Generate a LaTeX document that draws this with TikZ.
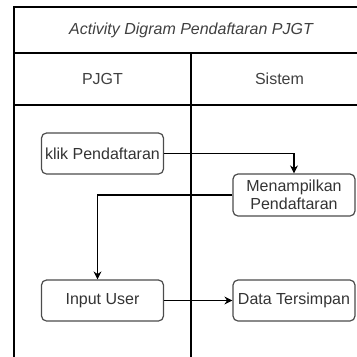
\documentclass[tikz,border=0pt]{standalone}
\usepackage{fontspec}
\setmainfont{Liberation Sans}
\usetikzlibrary{arrows.meta}
\tikzset{
  lane/.style={draw=black, line width=1.3pt},
  heading/.style={text=black!75, font=\fontsize{16}{19}\selectfont},
  activity/.style={rectangle, rounded corners=5pt, minimum width=122pt, minimum height=41pt, inner sep=1pt, align=center, draw=black!70, line width=1.2pt, text=black!80, font=\fontsize{16}{18}\selectfont},
  arrow/.style={line width=1.1pt, black, ->, >={Stealth[length=8pt, width=8pt]}}
}
\begin{document}
\begin{tikzpicture}[x=1pt, y=-1pt]
    \useasboundingbox (0,0) rectangle (357,357);
    \clip (0,0) rectangle (357,357);
    % Kerangka swimlane
    \draw [lane] (14,380) -- (14,7) -- (368,7) -- (368,380);
    \draw [lane] (14,53) -- (368,53);
    \draw [lane] (14,105) -- (368,105);
    \draw [lane] (191,53) -- (191,380);

    % Judul dan kolom
    \node (judul) [heading, font=\fontsize{16}{19}\selectfont\itshape] at (191,30) {Activity Digram Pendaftaran PJGT};
    \node (pjgt) [heading] at (102.5,79) {PJGT};
    \node (sistem) [heading] at (279.5,79) {Sistem};

    % Aktivitas
    \node (klik) [activity] at (102.5,153.5) {klik Pendaftaran};
    \node (tampil) [activity, minimum height=42pt] at (294,195) {Menampilkan\\Pendaftaran};
    \node (input) [activity] at (102.5,300.5) {Input User};
    \node (simpan) [activity] at (294,300.5) {Data Tersimpan};

    % Alur
    \draw [arrow] (klik.east) -| (tampil.north);
    \draw [arrow] (tampil.west) -| ([xshift=-5pt]input.north);
    \draw [arrow] (input.east) -- (simpan.west);
\end{tikzpicture}
\end{document}
